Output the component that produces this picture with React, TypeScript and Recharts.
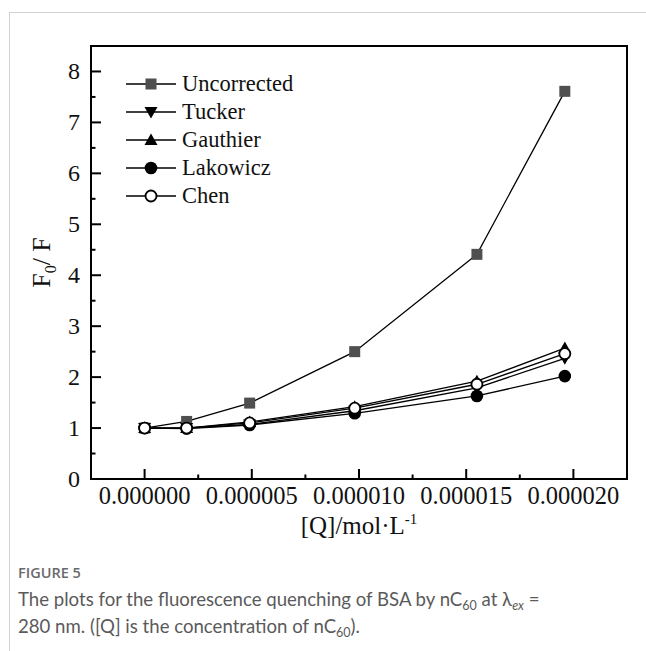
import React from 'react';
import { LineChart, Line, XAxis, YAxis, Legend, ReferenceArea } from 'recharts';

// [Q] in mol/L and F0/F for each correction method
const concentrations = [0, 1.96e-6, 4.9e-6, 9.8e-6, 1.55e-5, 1.96e-5];
const uncorrected = [1.0, 1.13, 1.49, 2.5, 4.41, 7.61];
const tucker = [1.0, 1.0, 1.07, 1.34, 1.79, 2.37];
const gauthier = [1.0, 1.0, 1.12, 1.42, 1.92, 2.57];
const lakowicz = [1.0, 0.99, 1.06, 1.29, 1.63, 2.02];
const chen = [1.0, 1.0, 1.1, 1.39, 1.86, 2.46];

const xTicks = [0, 2.5e-6, 5e-6, 7.5e-6, 1e-5, 1.25e-5, 1.5e-5, 1.75e-5, 2e-5];
const xTickLabels = ['0.000000', '', '0.000005', '', '0.000010', '', '0.000015', '', '0.000020'];
const yTicks = [0, 0.5, 1, 1.5, 2, 2.5, 3, 3.5, 4, 4.5, 5, 5.5, 6, 6.5, 7, 7.5, 8];
const yTickLabels = ['0', '', '1', '', '2', '', '3', '', '4', '', '5', '', '6', '', '7', '', '8'];

const xDomain = [-2.5e-6, 2.25e-5];
const yDomain = [0, 8.5];

type MarkerKind = 'square' | 'down' | 'up' | 'dot' | 'ring';

const series: { key: string; name: string; values: number[]; marker: MarkerKind }[] = [
  { key: 'uncorrected', name: 'Uncorrected', values: uncorrected, marker: 'square' },
  { key: 'tucker', name: 'Tucker', values: tucker, marker: 'down' },
  { key: 'gauthier', name: 'Gauthier', values: gauthier, marker: 'up' },
  { key: 'lakowicz', name: 'Lakowicz', values: lakowicz, marker: 'dot' },
  { key: 'chen', name: 'Chen', values: chen, marker: 'ring' },
];

const data = concentrations.map((q, i) => {
  const row: Record<string, number> = { q };
  series.forEach((s) => (row[s.key] = s.values[i]));
  return row;
});

const serif = '"Liberation Serif", "Times New Roman", serif';

function Marker({ kind, cx, cy }: { kind: MarkerKind; cx: number; cy: number }) {
  if (kind === 'square') {
    return <rect x={cx - 5.5} y={cy - 5.5} width={11} height={11} fill="#4f4f4f" />;
  }
  if (kind === 'down') {
    return <path d={`M${cx - 6.5},${cy - 5} L${cx + 6.5},${cy - 5} L${cx},${cy + 6.5} Z`} fill="#000" />;
  }
  if (kind === 'up') {
    return <path d={`M${cx - 6.5},${cy + 5} L${cx + 6.5},${cy + 5} L${cx},${cy - 6.5} Z`} fill="#000" />;
  }
  if (kind === 'dot') {
    return <circle cx={cx} cy={cy} r={6.3} fill="#000" />;
  }
  return <circle cx={cx} cy={cy} r={5.5} fill="#fff" stroke="#000" strokeWidth={1.8} />;
}

function XTick(props: any) {
  const { x, y, index } = props;
  const major = index % 2 === 0;
  return (
    <g>
      <line x1={x} y1={y} x2={x} y2={y - (major ? 10 : 4.5)} stroke="#000" strokeWidth={2} />
      {major && (
        <text x={x} y={y + 25} textAnchor="middle" fontFamily={serif} fontSize={24.5} fill="#111">
          {xTickLabels[index]}
        </text>
      )}
    </g>
  );
}

function YTick(props: any) {
  const { x, y, index } = props;
  const major = index % 2 === 0;
  return (
    <g>
      <line x1={x} y1={y} x2={x + (major ? 10 : 4.5)} y2={y} stroke="#000" strokeWidth={2} />
      {major && (
        <text x={x - 11} y={y + 8} textAnchor="end" fontFamily={serif} fontSize={24} fill="#111">
          {yTickLabels[index]}
        </text>
      )}
    </g>
  );
}

function LegendBox() {
  return (
    <div style={{ fontFamily: serif, fontSize: 22.5, color: '#111' }}>
      {series.map((s) => (
        <div key={s.key} style={{ display: 'flex', alignItems: 'center', height: 28 }}>
          <svg width={52} height={28} style={{ display: 'block' }}>
            <line x1={0} y1={14} x2={50} y2={14} stroke="#000" strokeWidth={1.4} />
            <Marker kind={s.marker} cx={25} cy={14} />
          </svg>
          <span style={{ marginLeft: 4, lineHeight: '28px' }}>{s.name}</span>
        </div>
      ))}
    </div>
  );
}

const subStyle: React.CSSProperties = { fontSize: 12.5, lineHeight: 0, verticalAlign: '-0.3em' };

export default function App() {
  return (
    <div style={{ position: 'absolute', left: 0, top: 0, width: 646, height: 651, background: '#fff' }}>
      <div
        style={{
          position: 'absolute',
          left: 9,
          top: 12,
          width: 637,
          height: 639,
          borderTop: '1px solid #d2d2d2',
          borderLeft: '1px solid #d2d2d2',
          boxSizing: 'border-box',
        }}
      />
      <div style={{ position: 'absolute', left: 0, top: 0 }}>
        <LineChart width={646} height={560} data={data} margin={{ top: 46, right: 19, bottom: 21, left: 31 }}>
          <XAxis
            dataKey="q"
            type="number"
            domain={xDomain}
            ticks={xTicks}
            interval={0}
            allowDataOverflow
            height={60}
            tickSize={0}
            tickMargin={0}
            tickLine={false}
            tick={<XTick />}
            axisLine={{ stroke: '#000', strokeWidth: 2 }}
            label={{
              content: ({ viewBox }: any) => (
                <text
                  x={viewBox.x + viewBox.width / 2}
                  y={viewBox.y + 55}
                  textAnchor="middle"
                  fontFamily={serif}
                  fontSize={25}
                  fill="#111"
                >
                  [Q]/mol·L
                  <tspan fontSize={15} dy={-10}>
                    -1
                  </tspan>
                </text>
              ),
            }}
          />
          <YAxis
            type="number"
            domain={yDomain}
            ticks={yTicks}
            interval={0}
            allowDataOverflow
            width={60}
            tickSize={0}
            tickMargin={0}
            tickLine={false}
            tick={<YTick />}
            axisLine={{ stroke: '#000', strokeWidth: 2 }}
            label={{
              content: ({ viewBox }: any) => {
                const cx = 50;
                const cy = viewBox.y + viewBox.height / 2;
                return (
                  <text
                    x={cx}
                    y={cy}
                    transform={`rotate(-90, ${cx}, ${cy})`}
                    textAnchor="middle"
                    fontFamily={serif}
                    fontSize={26}
                    fill="#111"
                  >
                    F
                    <tspan fontSize={16} dy={6}>
                      0
                    </tspan>
                    <tspan dy={-6}>/ F</tspan>
                  </text>
                );
              },
            }}
          />
          <ReferenceArea
            x1={xDomain[0]}
            x2={xDomain[1]}
            y1={yDomain[0]}
            y2={yDomain[1]}
            fill="none"
            stroke="#000"
            strokeWidth={2}
            ifOverflow="visible"
          />
          {series.map((s) => (
            <Line
              key={s.key}
              dataKey={s.key}
              name={s.name}
              type="linear"
              stroke="#000"
              strokeWidth={1.3}
              isAnimationActive={false}
              dot={(p: any) => <Marker key={`${s.key}-${p.index}`} kind={s.marker} cx={p.cx} cy={p.cy} />}
              activeDot={false}
            />
          ))}
          <Legend
            layout="vertical"
            align="center"
            verticalAlign="middle"
            content={<LegendBox />}
            wrapperStyle={{ left: 126, top: 70, width: 'auto' }}
          />
        </LineChart>
      </div>
      <div
        style={{
          position: 'absolute',
          left: 18,
          top: 563,
          fontFamily: '"Open Sans", sans-serif',
          fontWeight: 600,
          fontSize: 14.5,
          color: '#6a6a6a',
        }}
      >
        FIGURE 5
      </div>
      <div
        style={{
          position: 'absolute',
          left: 18,
          top: 586,
          width: 625,
          fontFamily: 'Lato, sans-serif',
          fontSize: 18.6,
          lineHeight: '27px',
          color: '#5a5a5a',
        }}
      >
        The plots for the fluorescence quenching of BSA by nC<sub style={subStyle}>60</sub> at λ
        <sub style={{ ...subStyle, fontStyle: 'italic' }}>ex</sub> =
        <br />
        280 nm. ([Q] is the concentration of nC<sub style={subStyle}>60</sub>).
      </div>
    </div>
  );
}
